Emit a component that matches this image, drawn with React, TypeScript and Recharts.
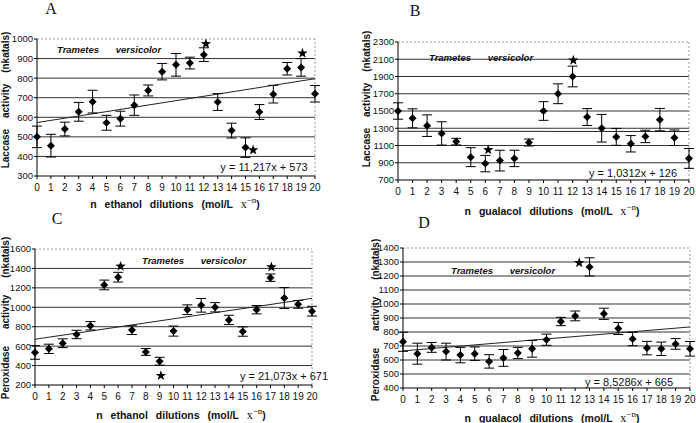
import React from 'react';
import {
  ScatterChart,
  Scatter,
  XAxis,
  YAxis,
  CartesianGrid,
  ErrorBar,
  ReferenceLine,
} from 'recharts';

// n dilutions (x axis, 0..20)
const dilutions = [0, 1, 2, 3, 4, 5, 6, 7, 8, 9, 10, 11, 12, 13, 14, 15, 16, 17, 18, 19, 20];

// A: laccase activity, ethanol dilutions
const laccaseEthanol = [500, 455, 540, 628, 680, 572, 593, 662, 737, 833, 868, 877, 920, 678, 532, 445, 627, 718, 848, 855, 720];
const laccaseEthanolErr = [55, 58, 35, 48, 58, 38, 38, 52, 28, 42, 58, 30, 35, 43, 38, 50, 38, 45, 32, 45, 42];
const laccaseEthanolStarX = [12.15, 15.55, 19.1];
const laccaseEthanolStarY = [975, 433, 927];
const laccaseEthanolTrend = [573, 797];
const laccaseEthanolTicks = [300, 400, 500, 600, 700, 800, 900, 1000];

// B: laccase activity, guaiacol dilutions
const laccaseGuaiacol = [1500, 1415, 1330, 1240, 1145, 965, 890, 925, 950, 1135, 1500, 1700, 1900, 1430, 1300, 1200, 1120, 1205, 1400, 1190, 950];
const laccaseGuaiacolErr = [95, 110, 125, 135, 38, 110, 95, 120, 95, 40, 108, 115, 120, 98, 160, 98, 95, 72, 130, 90, 115];
const laccaseGuaiacolStarX = [6.2, 12.05];
const laccaseGuaiacolStarY = [1049, 2088];
const laccaseGuaiacolTrend = [1265, 1262];
const laccaseGuaiacolTicks = [700, 900, 1100, 1300, 1500, 1700, 1900, 2100, 2300];

// C: peroxidase activity, ethanol dilutions
const peroxEthanol = [535, 572, 630, 720, 810, 1230, 1310, 765, 540, 445, 755, 975, 1020, 1000, 870, 750, 975, 1305, 1095, 1030, 960];
const peroxEthanolErr = [70, 48, 45, 43, 43, 50, 50, 45, 35, 40, 52, 50, 70, 48, 48, 48, 43, 38, 108, 40, 50];
const peroxEthanolStarX = [6.18, 9.09, 17.07];
const peroxEthanolStarY = [1421, 296, 1414];
const peroxEthanolTrend = [671, 1092];
const peroxEthanolTicks = [200, 400, 600, 800, 1000, 1200, 1400, 1600];

// D: peroxidase activity, guaiacol dilutions
const peroxGuaiacol = [730, 645, 690, 660, 635, 645, 590, 615, 650, 680, 745, 875, 915, 1265, 930, 825, 750, 685, 680, 715, 680];
const peroxGuaiacolErr = [68, 75, 35, 60, 55, 48, 48, 60, 40, 60, 40, 30, 35, 65, 40, 43, 48, 48, 48, 38, 52];
const peroxGuaiacolStarX = [12.28];
const peroxGuaiacolStarY = [1295];
const peroxGuaiacolTrend = [665, 836];
const peroxGuaiacolTicks = [400, 500, 600, 700, 800, 900, 1000, 1100, 1200, 1300, 1400];

const FONT = '"Liberation Sans", Arial, sans-serif';

const Diamond = (props: any) => {
  const { cx, cy } = props;
  const s = 4;
  return (
    <polygon
      points={`${cx},${cy - s} ${cx + s},${cy} ${cx},${cy + s} ${cx - s},${cy}`}
      fill="#000"
    />
  );
};

const Star = (props: any) => {
  const { cx, cy } = props;
  const pts: string[] = [];
  for (let i = 0; i < 10; i++) {
    const a = -Math.PI / 2 + (i * Math.PI) / 5;
    const rad = i % 2 ? 2.2 : 5.5;
    pts.push(`${cx + rad * Math.cos(a)},${cy + rad * Math.sin(a)}`);
  }
  return <polygon points={pts.join(' ')} fill="#000" />;
};

interface PanelProps {
  left: number;
  top: number;
  width: number;
  height: number;
  margin: { top: number; right: number; bottom: number; left: number };
  values: number[];
  errors: number[];
  starX: number[];
  starY: number[];
  trend: number[];
  ticks: number[];
}

const Panel: React.FC<PanelProps> = ({ left, top, width, height, margin, values, errors, starX, starY, trend, ticks }) => {
  const points = dilutions.map((x, i) => ({ x, y: values[i], err: errors[i] }));
  const stars = starX.map((x, i) => ({ x, y: starY[i] }));
  const yMin = ticks[0];
  const yMax = ticks[ticks.length - 1];
  return (
    <div style={{ position: 'absolute', left, top }}>
      <ScatterChart width={width} height={height} margin={margin}>
        <CartesianGrid
          horizontal
          vertical={false}
          horizontalValues={ticks.slice(1, -1)}
          stroke="#333"
          strokeWidth={1}
        />
        <ReferenceLine y={yMax} stroke="#999" strokeDasharray="2 2" />
        <ReferenceLine x={20} stroke="#999" strokeDasharray="2 2" />
        <XAxis
          type="number"
          dataKey="x"
          domain={[0, 20]}
          ticks={dilutions}
          interval={0}
          height={20}
          tick={{ fill: '#111', fontSize: 10, fontFamily: FONT }}
          tickSize={3}
          tickMargin={5}
          axisLine={{ stroke: '#000' }}
          tickLine={{ stroke: '#000' }}
        />
        <YAxis
          type="number"
          dataKey="y"
          domain={[yMin, yMax]}
          ticks={ticks}
          interval={0}
          width={30}
          tick={{ fill: '#111', fontSize: 9.5, fontFamily: FONT }}
          tickSize={3}
          tickMargin={1}
          axisLine={{ stroke: '#000' }}
          tickLine={{ stroke: '#000' }}
        />
        <ReferenceLine
          segment={[
            { x: 0, y: trend[0] },
            { x: 20, y: trend[1] },
          ]}
          stroke="#222"
          strokeWidth={1}
        />
        <Scatter data={points} shape={<Diamond />} isAnimationActive={false}>
          <ErrorBar dataKey="err" direction="y" width={5} stroke="#000" strokeWidth={1} />
        </Scatter>
        <Scatter data={stars} shape={<Star />} isAnimationActive={false} />
      </ScatterChart>
    </div>
  );
};

const txt = (extra: React.CSSProperties): React.CSSProperties => ({
  position: 'absolute',
  fontFamily: FONT,
  color: '#111',
  whiteSpace: 'nowrap',
  ...extra,
});

const YLabel = ({ x, y, gap, children }: { x: number; y: number; gap: number; children: React.ReactNode }) => (
  <div
    style={txt({
      left: x,
      top: y,
      fontSize: 10,
      lineHeight: '10px',
      fontWeight: 700,
      wordSpacing: gap,
      transform: 'translate(-50%, -50%) rotate(-90deg)',
    })}
  >
    {children}
  </div>
);

const XLabel = ({ x, y, text }: { x: number; y: number; text: string }) => (
  <div
    style={txt({
      left: x,
      top: y,
      fontSize: 10.5,
      fontWeight: 700,
      wordSpacing: 5,
      transform: 'translate(-50%, -50%)',
    })}
  >
    {text} <span style={{ fontFamily: '"Liberation Serif", serif', fontWeight: 400, fontSize: 12 }}>x<sup style={{ fontSize: 9 }}>−n</sup></span>)
  </div>
);

const Species = ({ x, y }: { x: number; y: number }) => (
  <div style={txt({ left: x, top: y, fontSize: 9.5, fontWeight: 700, fontStyle: 'italic', wordSpacing: 14, transform: 'translateY(-50%)' })}>
    Trametes versicolor
  </div>
);

const Equation = ({ x, y, text }: { x: number; y: number; text: string }) => (
  <div style={txt({ left: x, top: y, fontSize: 11, transform: 'translate(-50%, -50%)' })}>{text}</div>
);

const Letter = ({ x, y, text }: { x: number; y: number; text: string }) => (
  <div style={txt({ left: x, top: y, fontSize: 16, lineHeight: '16px', fontFamily: '"Liberation Serif", serif', transform: 'translate(-50%, -50%)' })}>
    {text}
  </div>
);

export default function App() {
  return (
    <div style={{ position: 'absolute', left: 0, top: 0, width: 696, height: 423, background: '#fff', overflow: 'hidden' }}>
      <Panel
        left={0}
        top={0}
        width={330}
        height={215}
        margin={{ top: 39, right: 15, left: 7, bottom: 19 }}
        values={laccaseEthanol}
        errors={laccaseEthanolErr}
        starX={laccaseEthanolStarX}
        starY={laccaseEthanolStarY}
        trend={laccaseEthanolTrend}
        ticks={laccaseEthanolTicks}
      />
      <Panel
        left={350}
        top={0}
        width={346}
        height={215}
        margin={{ top: 42, right: 7, left: 18, bottom: 15 }}
        values={laccaseGuaiacol}
        errors={laccaseGuaiacolErr}
        starX={laccaseGuaiacolStarX}
        starY={laccaseGuaiacolStarY}
        trend={laccaseGuaiacolTrend}
        ticks={laccaseGuaiacolTicks}
      />
      <Panel
        left={0}
        top={210}
        width={330}
        height={213}
        margin={{ top: 39, right: 18, left: 5, bottom: 18 }}
        values={peroxEthanol}
        errors={peroxEthanolErr}
        starX={peroxEthanolStarX}
        starY={peroxEthanolStarY}
        trend={peroxEthanolTrend}
        ticks={peroxEthanolTicks}
      />
      <Panel
        left={350}
        top={210}
        width={346}
        height={213}
        margin={{ top: 38, right: 6, left: 23, bottom: 15 }}
        values={peroxGuaiacol}
        errors={peroxGuaiacolErr}
        starX={peroxGuaiacolStarX}
        starY={peroxGuaiacolStarY}
        trend={peroxGuaiacolTrend}
        ticks={peroxGuaiacolTicks}
      />

      <Letter x={51} y={9} text="A" />
      <Letter x={415} y={11} text="B" />
      <Letter x={57} y={219} text="C" />
      <Letter x={424} y={223} text="D" />

      <YLabel x={6} y={100} gap={8}>Laccase activity (nkatals)</YLabel>
      <YLabel x={367} y={99} gap={8}>Laccase activity (nkatals)</YLabel>
      <YLabel x={6} y={318} gap={14}>Peroxidase activity (nkatals)</YLabel>
      <YLabel x={376} y={320} gap={14}>Peroxidase activity (nkatals)</YLabel>

      <XLabel x={175} y={203} text="n ethanol dilutions (mol/L" />
      <XLabel x={552} y={210} text="n gualacol dilutions (mol/L" />
      <XLabel x={181} y={414} text="n ethanol dilutions (mol/L" />
      <XLabel x={552} y={417} text="n gualacol dilutions (mol/L" />

      <Species x={57} y={49} />
      <Species x={429} y={57} />
      <Species x={142} y={260} />
      <Species x={451} y={270} />

      <Equation x={264} y={167} text="y = 11,217x + 573" />
      <Equation x={633} y={173} text="y = 1,0312x + 126" />
      <Equation x={284} y={376} text="y = 21,073x + 671" />
      <Equation x={629} y={382} text="y = 8,5286x + 665" />
    </div>
  );
}
